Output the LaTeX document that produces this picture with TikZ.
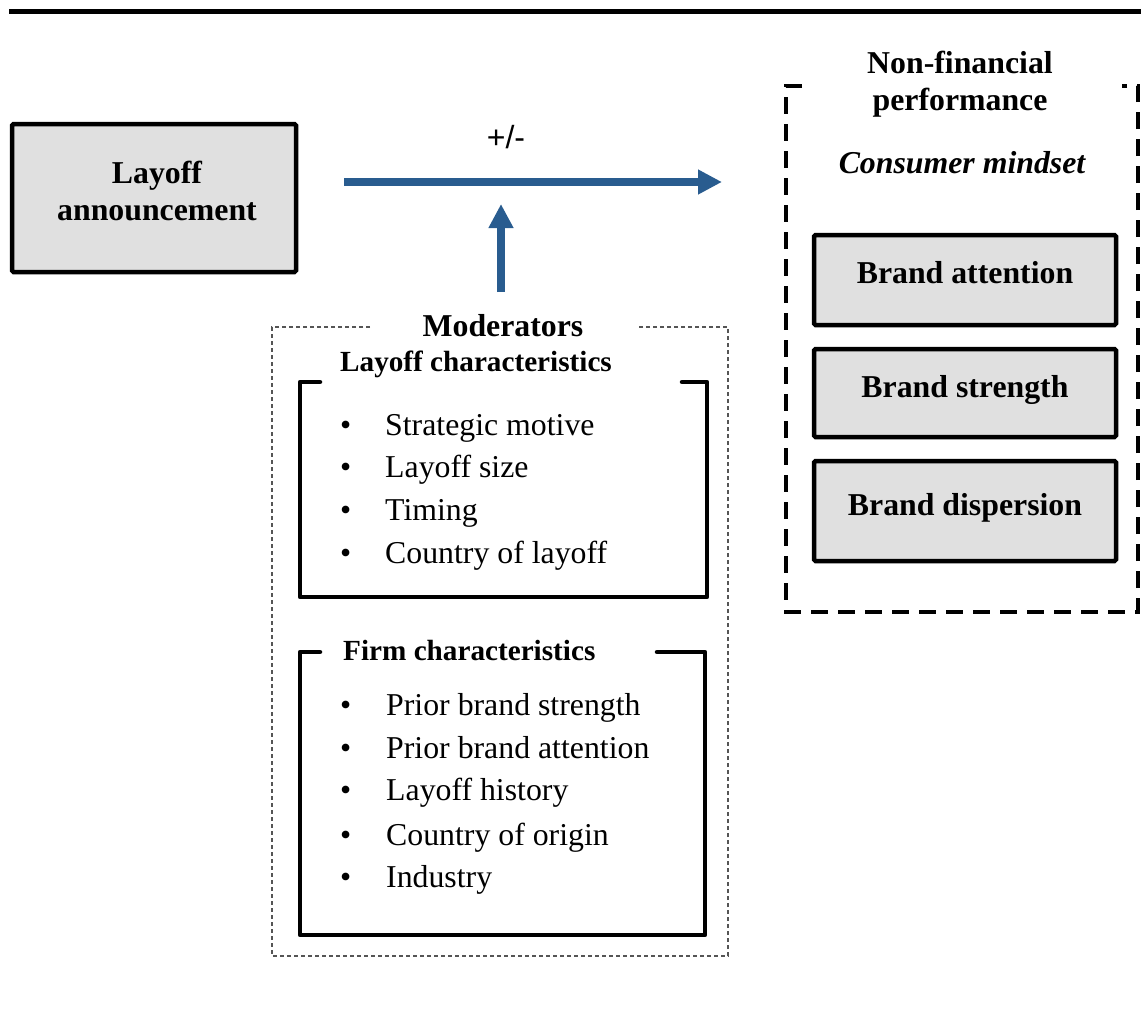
\documentclass[tikz,border=0pt]{standalone}
\usepackage{fontspec}
\setmainfont{Liberation Serif}
\newfontfamily\arialf{Liberation Sans}
\usetikzlibrary{arrows.meta}
\definecolor{arrowblue}{RGB}{41,92,143}
\definecolor{boxgray}{RGB}{224,224,224}
\definecolor{dotgray}{RGB}{85,85,85}
\begin{document}
\begin{tikzpicture}[x=1pt,y=-1pt,
  graybox/.style={draw=black,line width=4.5pt,fill=boxgray,rounded corners=1.5pt,inner sep=0pt},
  frameline/.style={draw=black,line width=4.5pt,line join=round,line cap=round},
  bt/.style={inner sep=0pt,anchor=base,font=\fontsize{31.8}{37}\selectfont\bfseries},
  bw/.style={inner sep=0pt,anchor=base west,font=\fontsize{29.2}{35}\selectfont\bfseries},
  it/.style={inner sep=0pt,anchor=base west,font=\fontsize{31.8}{37}\selectfont},
  blueline/.style={draw=arrowblue,line width=7.5pt},
  bluetip/.style={-{Triangle[length=24pt,width=23.4pt]}}]
\useasboundingbox (0,0) rectangle (1141,1012);

% top rule
\coordinate (tl) at (9,11.7);
\coordinate (tr) at (1141,11.7);
\draw[line width=4.7pt] (tl) -- (tr);

% layoff announcement box
\node[graybox,minimum width=284pt,minimum height=148pt] (lay) at (154,198) {};
\node[bt] (layt1) at (157,183) {Layoff};
\node[bt] (layt2) at (157,220) {announcement};

% main arrow
\coordinate (hs) at (344,182);
\coordinate (he) at (722,182);
\draw[blueline,bluetip] (hs) -- (he);
\node[inner sep=0pt,anchor=base,font=\arialf\fontsize{32}{38}\selectfont] (pm) at (506,148) {+/-};

% moderator arrow
\coordinate (vs) at (501,292);
\coordinate (ve) at (501,204);
\draw[blueline,bluetip] (vs) -- (ve);

% right dashed frame
\draw[line width=4pt,dash pattern=on 17pt off 10pt] (802,86) -- (786,86) -- (786,612) -- (1138,612) -- (1138,86) -- (1122,86);
\node[bt] (nf1) at (960,73) {Non-financial};
\node[bt] (nf2) at (960,110) {performance};
\node[bt,font=\fontsize{31.8}{37}\selectfont\bfseries\itshape] (cm) at (962,173) {Consumer mindset};

\node[graybox,minimum width=302pt,minimum height=90pt] (b1) at (965,280) {};
\node[graybox,minimum width=302pt,minimum height=88pt] (b2) at (965,393) {};
\node[graybox,minimum width=302pt,minimum height=100pt] (b3) at (965,511) {};
\node[bt] (b1t) at (965,283) {Brand attention};
\node[bt] (b2t) at (965,397) {Brand strength};
\node[bt] (b3t) at (965,515) {Brand dispersion};

% moderators dotted frame
\draw[dotgray,line width=1.2pt,dash pattern=on 4pt off 3pt] (370,327) -- (272,327) -- (272,956) -- (728,956) -- (728,327) -- (637,327);
\node[bt] (mod) at (503,336) {Moderators};

% layoff characteristics
\draw[frameline] (320,382) -- (300,382) -- (300,597) -- (707,597) -- (707,382) -- (682,382);
\node[bw] (lc) at (340,371) {Layoff characteristics};
\foreach \y/\t [count=\i] in {435/Strategic motive,477/Layoff size,520/Timing,563/Country of layoff}{
  \node[it] (lcb\i) at (340,\y) {•};
  \node[it] (lci\i) at (385,\y) {\t};
}

% firm characteristics
\draw[frameline] (320,652) -- (300,652) -- (300,935) -- (705,935) -- (705,652) -- (657,652);
\node[bw] (fc) at (343,660) {Firm characteristics};
\foreach \y/\t [count=\i] in {715/Prior brand strength,758/Prior brand attention,800/Layoff history,845/Country of origin,887/Industry}{
  \node[it] (fcb\i) at (340,\y) {•};
  \node[it] (fci\i) at (386,\y) {\t};
}
\end{tikzpicture}
\end{document}
